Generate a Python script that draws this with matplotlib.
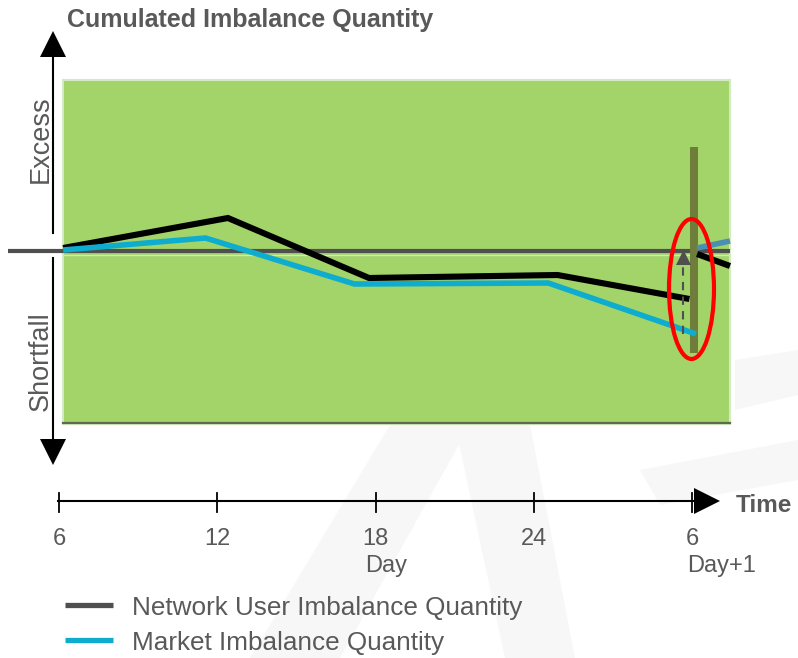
import matplotlib
matplotlib.use("Agg")
import matplotlib.pyplot as plt
from matplotlib.patches import Polygon, Rectangle, Ellipse

plt.rcParams['font.family'] = ['Liberation Sans', 'DejaVu Sans']

# ---------------- data ----------------
tick_hours = [6, 12, 18, 24, 30]
tick_labels = ['6', '12', '18', '24', '6']
day_labels = ['Day', 'Day+1']

network_hours = [6.15, 12.4, 17.75, 24.9, 29.9]
network_values = [0.3, 3.3, -2.7, -2.4, -4.8]

market_hours = [6.15, 11.55, 17.2, 24.55, 30.15]
market_values = [0.1, 1.3, -3.3, -3.2, -8.3]

next_hours = [30.19, 31.44]
next_network_values = [-0.3, -1.5]
next_market_values = [0.3, 1.0]

legend_labels = ['Network User Imbalance Quantity', 'Market Imbalance Quantity']

# ---------------- layout helpers (pixel -> data) ----------------
W, H = 798, 658
PX_PER_HOUR = 26.37
X18 = 375.6
ZERO_PY = 251.0
PX_PER_UNIT = 10.0

def X(px):
    return 18 + (px - X18) / PX_PER_HOUR

def Y(py):
    return (ZERO_PY - py) / PX_PER_UNIT

fig = plt.figure(figsize=(W / 100, H / 100), dpi=100)
ax = fig.add_axes([0, 0, 1, 1])
ax.set_xlim(X(0), X(W))
ax.set_ylim(Y(H), Y(0))
ax.axis('off')

TXT = '#595959'
GREEN = '#a2d469'
BLACK = '#000000'
CYAN = '#0eadd0'
BLUEGREY = '#4b8fb2'
DARK = '#4f4f4f'
OLIVE = '#6f7d3b'

# faint watermark
wm = '#f7f7f7'
for pts in [
    [(250, 658), (340, 658), (470, 425), (390, 425)],
    [(455, 425), (530, 425), (575, 658), (505, 658)],
    [(640, 470), (798, 440), (798, 480), (660, 505)],
    [(735, 360), (798, 350), (798, 395), (735, 410)],
]:
    ax.add_patch(Polygon([(X(a), Y(b)) for a, b in pts], closed=True,
                         facecolor=wm, edgecolor='none', zorder=0))

# green region
ax.add_patch(Rectangle((X(63), Y(424)), X(730) - X(63), Y(80) - Y(424),
                       facecolor=GREEN, edgecolor='#d3ebc5', linewidth=1.5, zorder=1))
ax.plot([X(63), X(730)], [Y(423), Y(423)], color='#5d6a4c', lw=1.6, zorder=1.5)

# zero line
ax.plot([X(8), X(730)], [0, 0], color=DARK, lw=3.0, solid_capstyle='butt', zorder=2)
ax.plot([X(63), X(730)], [Y(254.5), Y(254.5)], color='#cfe9bf', lw=1.0, zorder=1.8)

# olive vertical bar (day change)
ax.add_patch(Rectangle((X(690), Y(353)), X(697.5) - X(690), Y(147) - Y(353),
                       facecolor=OLIVE, edgecolor='none', zorder=3))

# data lines
ax.plot(network_hours, network_values, color=BLACK, lw=4.4,
        solid_joinstyle='miter', solid_capstyle='butt', zorder=4)
ax.plot(market_hours, market_values, color=CYAN, lw=4.0,
        solid_joinstyle='miter', solid_capstyle='butt', zorder=4)
ax.plot(next_hours, next_network_values, color=BLACK, lw=4.4,
        solid_capstyle='butt', zorder=4)
ax.plot(next_hours, next_market_values, color=BLUEGREY, lw=4.0,
        solid_capstyle='butt', zorder=4)

# dashed correction arrow
ax.plot([X(683), X(683)], [Y(334), Y(265)], color=DARK, lw=1.5,
        linestyle=(0, (4, 3)), zorder=5)
ax.add_patch(Polygon([(X(676), Y(265)), (X(691), Y(265)), (X(683.5), Y(250))],
                     closed=True, facecolor=DARK, edgecolor='none', zorder=5))

# red ellipse
ax.add_patch(Ellipse((X(691.5), Y(289)), X(714) - X(669), Y(219) - Y(359),
                     facecolor='none', edgecolor='#ff0000', lw=3.0, zorder=6))

# vertical (quantity) axis arrow
ax.plot([X(53), X(53)], [Y(57), Y(233)], color=BLACK, lw=1.5, zorder=3)
ax.plot([X(53), X(53)], [Y(258), Y(440)], color=BLACK, lw=1.5, zorder=3)
ax.add_patch(Polygon([(X(40), Y(57)), (X(66), Y(57)), (X(53), Y(31))],
                     closed=True, facecolor=BLACK, edgecolor='none', zorder=3))
ax.add_patch(Polygon([(X(40), Y(439)), (X(66), Y(439)), (X(53), Y(465))],
                     closed=True, facecolor=BLACK, edgecolor='none', zorder=3))

ax.text(X(41), Y(139), 'Excess', rotation=90, ha='center', va='center',
        fontsize=19.5, color=TXT)
ax.text(X(41), Y(361), 'Shortfall', rotation=90, ha='center', va='center',
        fontsize=19.5, color=TXT)

# title
ax.text(X(67), Y(27), 'Cumulated Imbalance Quantity', ha='left', va='baseline',
        fontsize=18, fontweight='bold', color=TXT)

# time axis
ax.plot([X(57), X(696)], [Y(501), Y(501)], color=BLACK, lw=1.5,
        solid_capstyle='butt', zorder=3)
for h in tick_hours:
    ax.plot([h, h], [Y(493), Y(512)], color=BLACK, lw=1.3, zorder=3)
ax.add_patch(Polygon([(X(694), Y(488)), (X(694), Y(514)), (X(720), Y(501))],
                     closed=True, facecolor=BLACK, edgecolor='none', zorder=3))
ax.text(X(736), Y(512), 'Time', ha='left', va='baseline', fontsize=17.5,
        fontweight='bold', color=TXT)

for h, lab in zip(tick_hours, tick_labels):
    ax.text(h, Y(545), lab, ha='center', va='baseline', fontsize=17, color=TXT)
ax.text(X(365), Y(572), day_labels[0], ha='left', va='baseline', fontsize=17, color=TXT)
ax.text(X(687), Y(572), day_labels[1], ha='left', va='baseline', fontsize=17, color=TXT)

# legend
for i, (lab, col) in enumerate(zip(legend_labels, [DARK, CYAN])):
    ly = 605 + 35 * i
    ax.plot([X(65), X(113)], [Y(ly), Y(ly)], color=col, lw=3.8, solid_capstyle='butt')
    ax.text(X(132), Y(ly + 10), lab, ha='left', va='baseline', fontsize=18.8, color=TXT)

fig.savefig('out.png', dpi=100)
